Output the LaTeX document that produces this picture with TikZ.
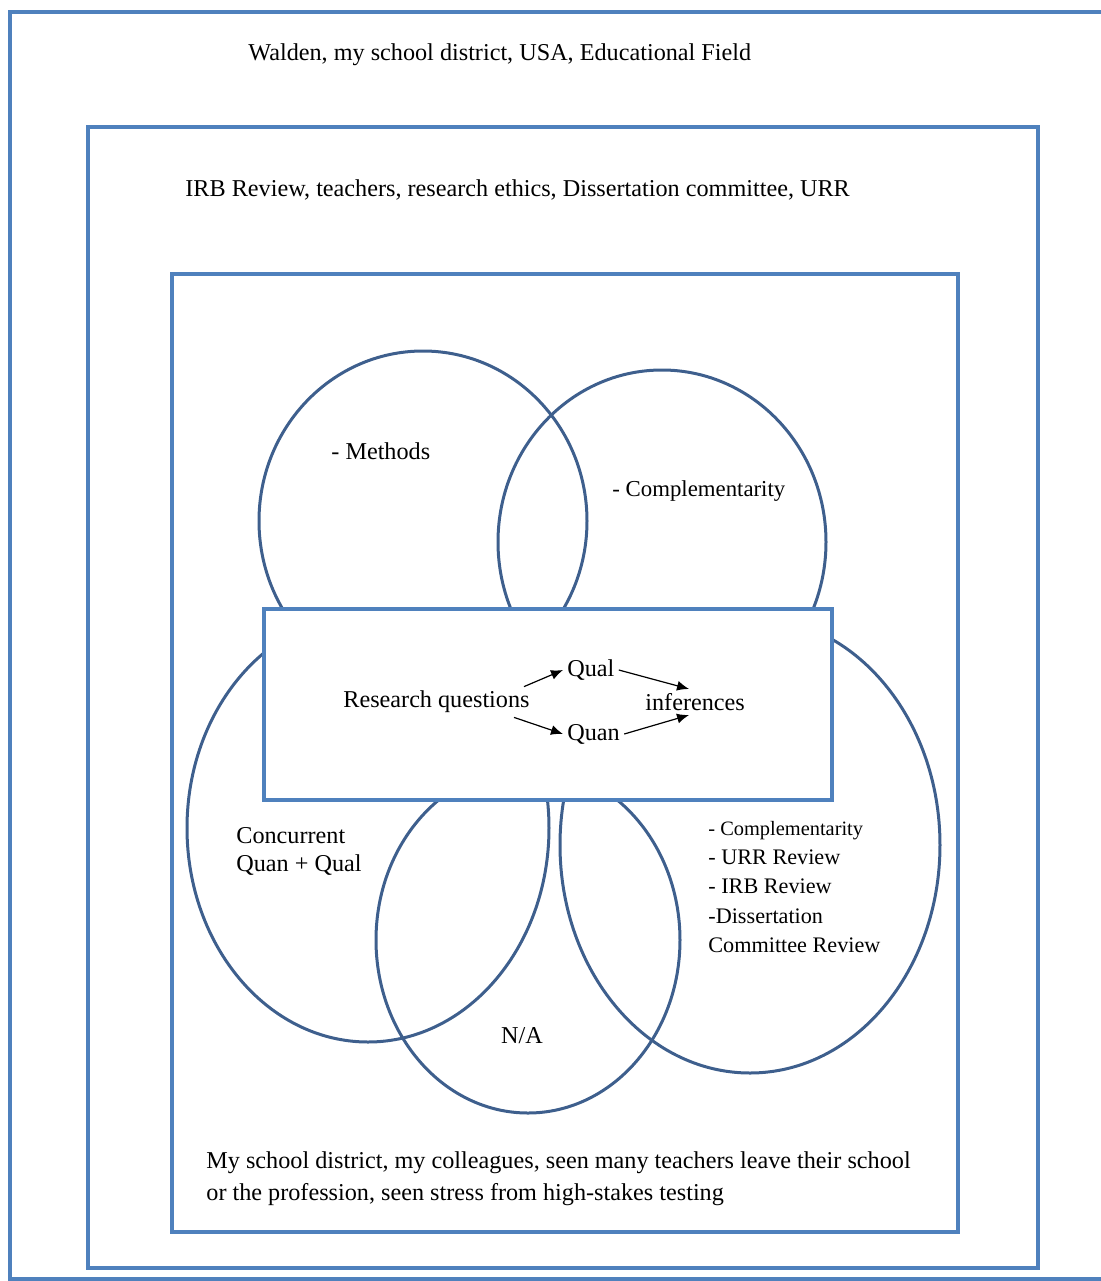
\documentclass[tikz,border=0pt]{standalone}
\usepackage{fontspec}
\setmainfont{Liberation Serif}
\usetikzlibrary{arrows.meta}
\definecolor{fblue}{HTML}{4F81BD}
\definecolor{cblue}{HTML}{3E5F8D}

\begin{document}
\begin{tikzpicture}[x=0.5pt, y=-0.5pt,
  lbl/.style={font=\fontsize{12.1}{14}\selectfont, anchor=west, inner sep=2pt},
  sml/.style={font=\fontsize{11.1}{14.6}\selectfont, anchor=north west, inner sep=0pt, align=left},
  frame/.style={draw=fblue, line width=1.6pt},
  ring/.style={draw=cblue, line width=1.5pt},
  arr/.style={-{Latex[length=6pt,width=5pt]}, line width=0.6pt}]
\useasboundingbox (0,0) rectangle (1101,1281);
\clip (0,0) rectangle (1101,1281);
% nested frames
\draw[frame] (10,12) rectangle (1130,1279);
\draw[frame] (88,127) rectangle (1038,1268);
\draw[frame] (172,274) rectangle (958,1232);
\node[lbl] (field) at (244,55) {Walden, my school district, USA, Educational Field};
\node[lbl] (irb) at (181,190) {IRB Review, teachers, research ethics, Dissertation committee, URR};
% circles
\draw[ring] (423,521) ellipse [x radius=164, y radius=170];
\draw[ring] (662,542) ellipse [x radius=164, y radius=172];
\draw[ring] (368,828) ellipse [x radius=181, y radius=214];
\draw[ring] (528,940) ellipse [x radius=152, y radius=173];
\draw[ring] (750,845) ellipse [x radius=190, y radius=228];
\node[lbl] (meth) at (327,451) {- Methods};
\node[lbl, font=\fontsize{11.4}{14}\selectfont] (compl) at (608,491) {- Complementarity};
\node[lbl, align=left] (conc) at (232,851) {Concurrent\\Quan + Qual};
\node[lbl, anchor=center] (na) at (522,1036) {N/A};
\node[sml] (rev) at (708,821) {{\fontsize{10.2}{14.6}\selectfont - Complementarity}\\- URR Review\\- IRB Review\\-Dissertation\\Committee Review};
% centre box
\filldraw[frame, fill=white] (264,609) rectangle (832,800);
\node[lbl] (rq) at (339,702) {Research questions};
\node[lbl] (qual) at (563,670) {Qual};
\node[lbl] (quan) at (563,734) {Quan};
\node[lbl] (inf) at (641,702) {inferences};
\draw[arr] ([xshift=-5pt]rq.north east) -- (qual.west);
\draw[arr] (qual.east) -- (inf.115);
\draw[arr] ([xshift=-10pt]rq.south east) -- (quan.west);
\draw[arr] (quan.east) -- (inf.-115);
% bottom note
\node[lbl, align=left, anchor=north west, font=\fontsize{12.1}{16}\selectfont] (note) at (202,1147) {My school district, my colleagues, seen many teachers leave their school\\or the profession, seen stress from high-stakes testing};
\end{tikzpicture}
\end{document}
